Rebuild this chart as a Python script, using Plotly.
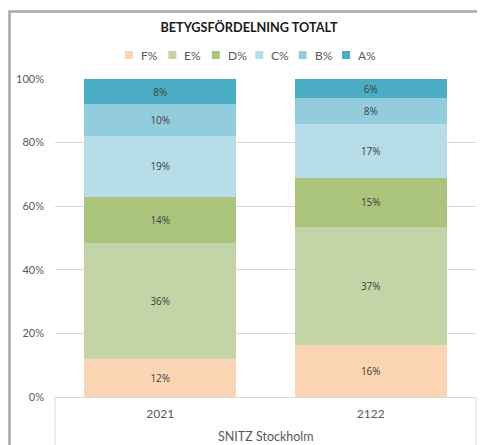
import plotly.graph_objects as go

group_label = "SNITZ Stockholm"
years = ["2021", "2122"]
series_names = ["F%", "E%", "D%", "C%", "B%", "A%"]
f_vals = [0.120, 0.163]
e_vals = [0.364, 0.372]
d_vals = [0.144, 0.154]
c_vals = [0.194, 0.171]
b_vals = [0.099, 0.080]
a_vals = [0.079, 0.060]
colors = ["#FBD4B4", "#C3D4A6", "#AAC47C", "#B7DDE8", "#93CDDD", "#4BACC6"]

OFF = 8  # page body margin
W, H = 485 - OFF, 445 - OFF
L, R, T, B = 55 - OFF, 9, 79 - OFF, 48

fig = go.Figure()
for name, vals, col in zip(series_names, [f_vals, e_vals, d_vals, c_vals, b_vals, a_vals], colors):
    fig.add_trace(go.Bar(
        x=years, y=vals, name=name, showlegend=False,
        marker=dict(color=col, line=dict(width=0)),
        texttemplate="%{y:.0%}", textposition="inside", insidetextanchor="middle",
        textangle=0,
        textfont=dict(family="Open Sans, DejaVu Sans", size=10, color="#404040"),
        constraintext="none",
    ))

pw = W - L - R
ph = H - T - B
def px(sx):
    return (sx - OFF - L) / pw
def py(sy):
    return (H - B - (sy - OFF)) / ph

fig.update_layout(
    width=W, height=H,
    margin=dict(l=L, r=R, t=T, b=B, autoexpand=False),
    barmode="stack", bargap=0.28,
    paper_bgcolor="white", plot_bgcolor="white",
    font=dict(family="Lato, Open Sans, sans-serif", color="#595959"),
    title=dict(text="<b>BETYGSFÖRDELNING TOTALT</b>", x=(249 - OFF) / W, xref="container", xanchor="center",
               y=1 - (28 - OFF) / H, yref="container", yanchor="middle",
               font=dict(family="Lato, Open Sans, sans-serif", size=12.7, color="#1a1a1a")),
    showlegend=False,
    yaxis=dict(range=[0, 1], tickvals=[0, 0.2, 0.4, 0.6, 0.8, 1.0], tickformat=".0%",
               showgrid=True, gridcolor="#D9D9D9", gridwidth=1, zeroline=False,
               tickfont=dict(size=11, color="#595959"), ticks="", ticklen=0,
               showline=False, fixedrange=True, automargin=False, ticklabelstandoff=10),
    xaxis=dict(type="category", showline=True, linecolor="#D9D9D9", linewidth=1,
               tickfont=dict(size=12, color="#595959"), ticks="", automargin=False,
               ticklabelstandoff=6),
)

# legend (series key)
legend_left = 125
legend_step = 43.4
for i, (name, col) in enumerate(zip(series_names, colors)):
    sx = legend_left + i * legend_step
    fig.add_shape(type="rect", xref="paper", yref="paper",
                  x0=px(sx), x1=px(sx + 8), y0=py(59), y1=py(51),
                  fillcolor=col, line=dict(width=0))
    fig.add_annotation(text=name, xref="paper", yref="paper", x=px(sx + 14), y=py(55),
                       xanchor="left", yanchor="middle", showarrow=False,
                       font=dict(size=12, color="#595959"))

# group label of the two-level category axis
fig.add_annotation(text=group_label, xref="paper", yref="paper", x=0.5, y=py(436),
                   xanchor="center", yanchor="middle", showarrow=False,
                   font=dict(size=12.5, color="#595959"))
for xe in (0, 1):
    fig.add_shape(type="line", xref="paper", yref="paper", x0=xe, x1=xe, y0=0, y1=py(460),
                  line=dict(color="#D9D9D9", width=1))

fig.add_shape(type="rect", xref="paper", yref="paper",
              x0=px(9.5), x1=px(492), y0=py(460), y1=py(11.5),
              line=dict(color="#A6A6A6", width=2.5), fillcolor="rgba(0,0,0,0)", layer="below")

fig.write_html("out.html")
